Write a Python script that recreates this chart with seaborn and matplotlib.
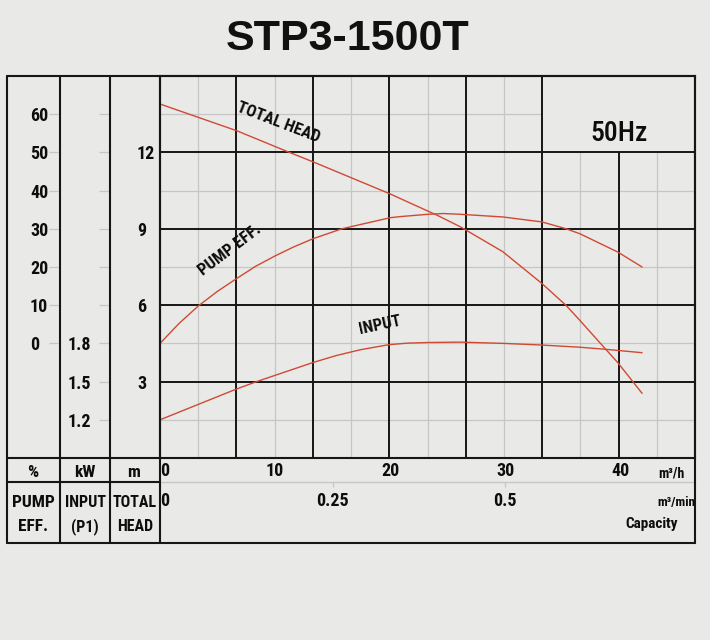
import matplotlib
matplotlib.use("Agg")
import matplotlib.pyplot as plt
from matplotlib import font_manager
from matplotlib.lines import Line2D
import seaborn as sns

# curves (capacity in m3/h)
head_q = [0, 6.67, 11.3, 13.3, 20.0, 21.7, 24.1, 26.1, 29.8, 33.2, 35.3, 36.5, 38.8, 39.8, 41.9]
head_m = [13.9, 12.85, 11.99, 11.63, 10.37, 10.02, 9.53, 9.08, 8.10, 6.85, 5.99, 5.40, 4.24, 3.74, 2.54]

eff_q = [0, 1.65, 3.33, 4.98, 6.67, 8.32, 10.0, 11.65, 13.3, 15.8, 20.0, 20.9, 23.3, 24.6,
         26.1, 29.8, 33.2, 35.3, 36.5, 39.8, 41.9]
eff_pct = [0, 5.2, 9.8, 13.6, 17.0, 20.2, 22.9, 25.3, 27.4, 30.0, 32.9, 33.2, 33.8, 34.0,
           33.8, 33.1, 31.8, 30.0, 28.7, 23.9, 20.0]

kw_q = [0, 6.6, 8.4, 13.3, 15.3, 17.4, 19.9, 21.5, 23.3, 26.1, 29.9, 33.2, 36.5, 38.8, 41.9]
kw = [1.20, 1.44, 1.50, 1.65, 1.704, 1.75, 1.79, 1.802, 1.807, 1.81, 1.80, 1.787, 1.77,
      1.753, 1.727]

# axis ticks / labels
q_ticks = [0, 10, 20, 30, 40]
qmin_ticks = [0, 0.25, 0.5]
qmin_labels = ["0", "0.25", "0.5"]
head_ticks = [3, 6, 9, 12]
eff_ticks = [0, 10, 20, 30, 40, 50, 60]
kw_ticks = [1.2, 1.5, 1.8]
kw_labels = ["1.2", "1.5", "1.8"]
kw_minor = [2.1, 2.4, 2.7, 3.0, 3.3, 3.6]

W, H = 710, 640
X_MAX, H_MAX = 46.5, 15
RED = "#cf4a33"
DARK = "#161616"
LIGHT = "#c6c6c6"
BG = "#e9e9e7"
INK = "#0d0d0d"


def pick(fams):
    for f in fams:
        try:
            font_manager.findfont(font_manager.FontProperties(family=f), fallback_to_default=False)
            return f
        except ValueError:
            pass
    return "DejaVu Sans"


NARROW = pick(["Liberation Sans Narrow", "Roboto Condensed", "Liberation Sans"])
WIDE = pick(["Liberation Sans", "DejaVu Sans"])
k = 1.0 if NARROW != "Liberation Sans" else 0.88

sns.set_style("white")
plt.rcParams["font.family"] = [NARROW, "DejaVu Sans"]
plt.rcParams["font.weight"] = "bold"
plt.rcParams["text.color"] = INK
plt.rcParams["xtick.color"] = INK
plt.rcParams["ytick.color"] = INK


def fx(px):
    return px / W


def fy(py):
    return 1 - py / H


fig = plt.figure(figsize=(W / 100, H / 100), dpi=100, facecolor=BG)
ax = fig.add_axes([fx(160), fy(458), 535 / W, 382 / H], facecolor=BG)
ax.set_xlim(0, X_MAX)
ax.set_ylim(0, H_MAX)

# grid: 14 columns, dark every second; no grid inside the 50Hz box
for i in range(1, 14):
    xv = X_MAX * i / 14
    top = H_MAX if i <= 10 else 12
    dark = i % 2 == 0
    ax.vlines(xv, 0, top, color=DARK if dark else LIGHT,
              lw=1.4 if dark else 0.9, zorder=1 if dark else 0.5)
ax.hlines([1.5, 4.5, 7.5, 10.5], 0, X_MAX, color=LIGHT, lw=0.9, zorder=0.5)
ax.hlines(13.5, 0, X_MAX * 10 / 14, color=LIGHT, lw=0.9, zorder=0.5)
ax.hlines(head_ticks, 0, X_MAX, color=DARK, lw=1.4, zorder=1)

for s in ax.spines.values():
    s.set_color(DARK)
    s.set_linewidth(1.5)

# twin scales for efficiency and input power
tw_eff = ax.twinx()
tw_eff.set_ylim(-30, 70)
tw_kw = ax.twinx()
tw_kw.set_ylim(0.9, 3.9)

sns.lineplot(x=head_q, y=head_m, ax=ax, color=RED, lw=1.0, zorder=3)
sns.lineplot(x=eff_q, y=eff_pct, ax=tw_eff, color=RED, lw=1.0)
sns.lineplot(x=kw_q, y=kw, ax=tw_kw, color=RED, lw=1.0)
ax.set_xlim(0, X_MAX)

tick_fs = 13 * k

# head scale (m)
ax.set_yticks(head_ticks)
ax.set_yticklabels([str(v) for v in head_ticks], fontsize=tick_fs, fontweight="bold")
ax.tick_params(axis="y", length=0, pad=16.6)
for lab in ax.get_yticklabels():
    lab.set_ha("left")

# capacity m3/h
ax.set_xticks(q_ticks)
ax.set_xticklabels([str(v) for v in q_ticks], fontsize=tick_fs, fontweight="bold")
ax.tick_params(axis="x", length=0, pad=3.2)
ax.get_xticklabels()[0].set_ha("left")
ax.set(xlabel="", ylabel="")

# efficiency % and kW columns
for tw, off, pad in [(tw_eff, 72, 13.7), (tw_kw, 36, 23)]:
    tw.yaxis.set_ticks_position("left")
    tw.spines["left"].set_position(("outward", off))
    for s in tw.spines.values():
        s.set_visible(False)
    tw.tick_params(axis="y", which="both", direction="out", length=7.9, width=0.9,
                   color=LIGHT, pad=pad)
    tw.set(xlabel="", ylabel="")

tw_eff.set_yticks(eff_ticks)
tw_eff.set_yticklabels([str(v) for v in eff_ticks], fontsize=tick_fs, fontweight="bold")
tw_kw.set_yticks(kw_ticks)
tw_kw.set_yticklabels(kw_labels, fontsize=tick_fs, fontweight="bold")
tw_kw.set_yticks(kw_minor, minor=True)
for tw in (tw_eff, tw_kw):
    for lab in tw.get_yticklabels():
        lab.set_ha("left")

# capacity m3/min on a second scale below
sec = ax.secondary_xaxis(-24 / 382, functions=(lambda q: q / 60, lambda m: m * 60))
sec.set_xticks(qmin_ticks)
sec.set_xticklabels(qmin_labels, fontsize=tick_fs, fontweight="bold")
sec.spines["bottom"].set_color(LIGHT)
sec.spines["bottom"].set_linewidth(1.0)
sec.tick_params(axis="x", direction="out", length=3.6, width=0.9, color=LIGHT, pad=3.6)
sec.get_xticklabels()[0].set_ha("left")

# curve names
lab_fs = 12 * k
ax.text(10.26, 13.19, "TOTAL HEAD", rotation=-21, ha="center", va="center",
        fontsize=lab_fs, rotation_mode="anchor")
ax.text(6.08, 8.17, "PUMP EFF.", rotation=37, ha="center", va="center",
        fontsize=lab_fs, rotation_mode="anchor")
ax.text(19.1, 5.22, "INPUT", rotation=12, ha="center", va="center",
        fontsize=lab_fs, rotation_mode="anchor")
ax.text(39.9, 12.76, "50Hz", ha="center", va="center", fontsize=20 * k,
        fontweight=500)


# frame and table lines
def line(x0, y0, x1, y1, c=DARK, lw=1.5):
    fig.add_artist(Line2D([fx(x0), fx(x1)], [fy(y0), fy(y1)], color=c, lw=lw))


line(7, 76, 695, 76)
line(7, 543, 695, 543)
line(7, 76, 7, 543)
line(695, 76, 695, 543)
for xv in (60, 110, 160):
    line(xv, 76, xv, 543)
line(7, 458, 160, 458)
line(7, 482, 160, 482)

# table text
for xc, t in [(33, "%"), (85, "kW"), (134, "m")]:
    fig.text(fx(xc), fy(477), t, ha="center", va="baseline", fontsize=12.5 * k)
for xc, a, b, fs in [(33, "PUMP", "EFF.", 12.5), (85, "INPUT", "(P1)", 11.5),
                     (135, "TOTAL", "HEAD", 11.5)]:
    fig.text(fx(xc), fy(507), a, ha="center", va="baseline", fontsize=fs * k)
    fig.text(fx(xc), fy(531), b, ha="center", va="baseline", fontsize=fs * k)

fig.text(fx(671), fy(477), "m³/h", ha="center", va="baseline", fontsize=10 * k)
fig.text(fx(676), fy(506), "m³/min", ha="center", va="baseline", fontsize=9.5 * k)
fig.text(fx(652), fy(528), "Capacity", ha="center", va="baseline", fontsize=11 * k)

fig.text(fx(348), fy(50), "STP3-1500T", ha="center", va="baseline",
         fontsize=31, fontweight="bold", family=[WIDE, "DejaVu Sans"], color="#111111")

fig.savefig("out.png", dpi=100, facecolor=BG)
